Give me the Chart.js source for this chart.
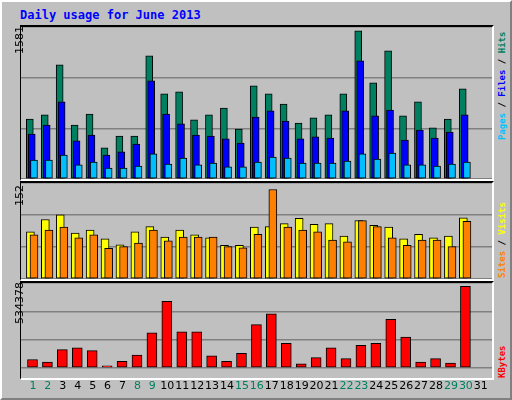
<!DOCTYPE html>
<html><head><meta charset="utf-8">
<script src="https://cdn.jsdelivr.net/npm/chart.js@4"></script>
<style>
body{margin:0;background:#fff}
#frame{position:relative;width:508px;height:396px;background:#c0c0c0;border:2px solid;border-color:#fff #808080 #808080 #fff;font-family:"DejaVu Sans",sans-serif}
#title{position:absolute;left:18px;top:6px;font:bold 12px "DejaVu Sans Mono",monospace;color:#0000ff}
.panel{position:absolute;left:18px;width:471px;border-top:2px solid #000;border-left:1px solid #000;border-right:2px solid #fff;border-bottom:2px solid #fff}
.panel canvas{position:absolute;left:0;top:0}
.vl{position:absolute;transform:rotate(-90deg);transform-origin:left top;font-size:11px;white-space:nowrap}
.vr{position:absolute;transform:rotate(-90deg);transform-origin:left top;font:bold 9px "DejaVu Sans Mono",monospace;white-space:nowrap}
</style></head><body>
<div id="frame">
<div id="title">Daily usage for June 2013</div>
<div class="panel" style="top:23px;height:152px"><canvas id="c1"></canvas></div>
<div class="panel" style="top:179px;height:96px"><canvas id="c2"></canvas></div>
<div class="panel" style="top:279px;height:95px"><canvas id="c3"></canvas></div>
<div class="vl" style="left:11px;top:52px">1581</div>
<div class="vl" style="left:11px;top:204px">152</div>
<div class="vl" style="left:11px;top:322px">534378</div>
<div class="vr" style="left:495px;top:138px"><span style="color:#00bfff">Pages</span> / <span style="color:#0000ff">Files</span> / <span style="color:#008060">Hits</span></div>
<div class="vr" style="left:495px;top:276px"><span style="color:#ff8000">Sites</span> / <span style="color:#ffff00">Visits</span></div>
<div class="vr" style="left:495px;top:376px"><span style="color:#ff0000">KBytes</span></div>
</div>
<script>
const days = Array.from({length: 31}, (_, i) => i + 1);
const weekend = [1, 2, 8, 9, 15, 16, 22, 23, 29, 30];
const hits = [628,670,1194,565,680,325,450,450,1288,890,911,618,670,743,523,974,890,785,586,639,670,890,1550,1005,1340,660,806,534,628,942,0];
const files = [471,565,806,398,460,251,283,366,1026,680,576,460,450,419,377,649,712,607,419,440,429,712,1235,660,722,408,513,429,492,670,0];
const pages = [199,199,251,147,178,115,115,136,262,157,220,147,167,126,126,178,230,220,167,167,167,188,262,209,272,147,147,136,157,178,0];
const visits = [80,101,109,78,83,68,58,80,89,71,83,75,70,57,57,88,89,94,103,93,94,73,99,91,88,68,76,70,73,104,0];
const sites = [75,83,88,70,75,52,55,61,83,65,71,71,71,55,53,76,152,88,83,80,66,63,99,89,70,57,66,66,55,98,0];
const kbytes = [54600,37000,119000,131000,113000,13700,42900,83900,230000,435000,236000,236000,78000,42900,95500,283000,353000,160000,25400,66300,131000,60500,148000,160000,318000,201000,37000,60500,31200,534378,0];

Chart.defaults.animation = false;
Chart.defaults.responsive = false;

function pts(vals, shift) {
  return vals.map((v, i) => ({x: days[i] + shift, y: v}));
}
function ds(vals, shift, color, w, order) {
  return {data: pts(vals, shift), backgroundColor: color, borderColor: '#000', borderWidth: 1,
          barThickness: w, grouped: false, borderSkipped: false, order: order};
}
function make(id, w, h, datasets, max, withDays) {
  const c = document.getElementById(id);
  c.width = w; c.height = h;
  return new Chart(c, {type: 'bar', data: {datasets: datasets},
    options: {layout: {padding: 0}, plugins: {legend: {display: false}, tooltip: {enabled: false}},
      scales: {
        x: {type: 'linear', min: 0.2, max: 31.75, offset: false, display: withDays,
            border: {display: false}, grid: {display: false},
            afterBuildTicks: ax => { ax.ticks = days.map(d => ({value: d})); },
            ticks: {padding: 4, autoSkip: false, maxRotation: 0, font: {size: 11, family: 'DejaVu Sans'},
                    color: c => weekend.includes(c.tick.value) ? '#008060' : '#000'}},
        y: {min: 0, max: max, afterBuildTicks: ax => { ax.ticks = [0, max / 3, 2 * max / 3, max].map(v => ({value: v})); },
            border: {display: false}, ticks: {display: false}, grid: {color: '#808080', drawTicks: false, lineWidth: 1.5}}
      }}});
}

make('c1', 471, 152, [
  ds(hits, -0.21, '#008060', 7, 3),
  ds(files, -0.08, '#0000ff', 7, 2),
  ds(pages, 0.07, '#00bfff', 7, 1)
], 1590, false);
make('c2', 471, 96, [
  ds(visits, -0.17, '#ffff00', 8, 2),
  ds(sites, 0.07, '#ff8000', 8, 1)
], 163, false);
make('c3', 471, 114, [
  ds(kbytes, -0.03, '#ff0000', 10, 1)
], 555830, true);
</script>
</body></html>
